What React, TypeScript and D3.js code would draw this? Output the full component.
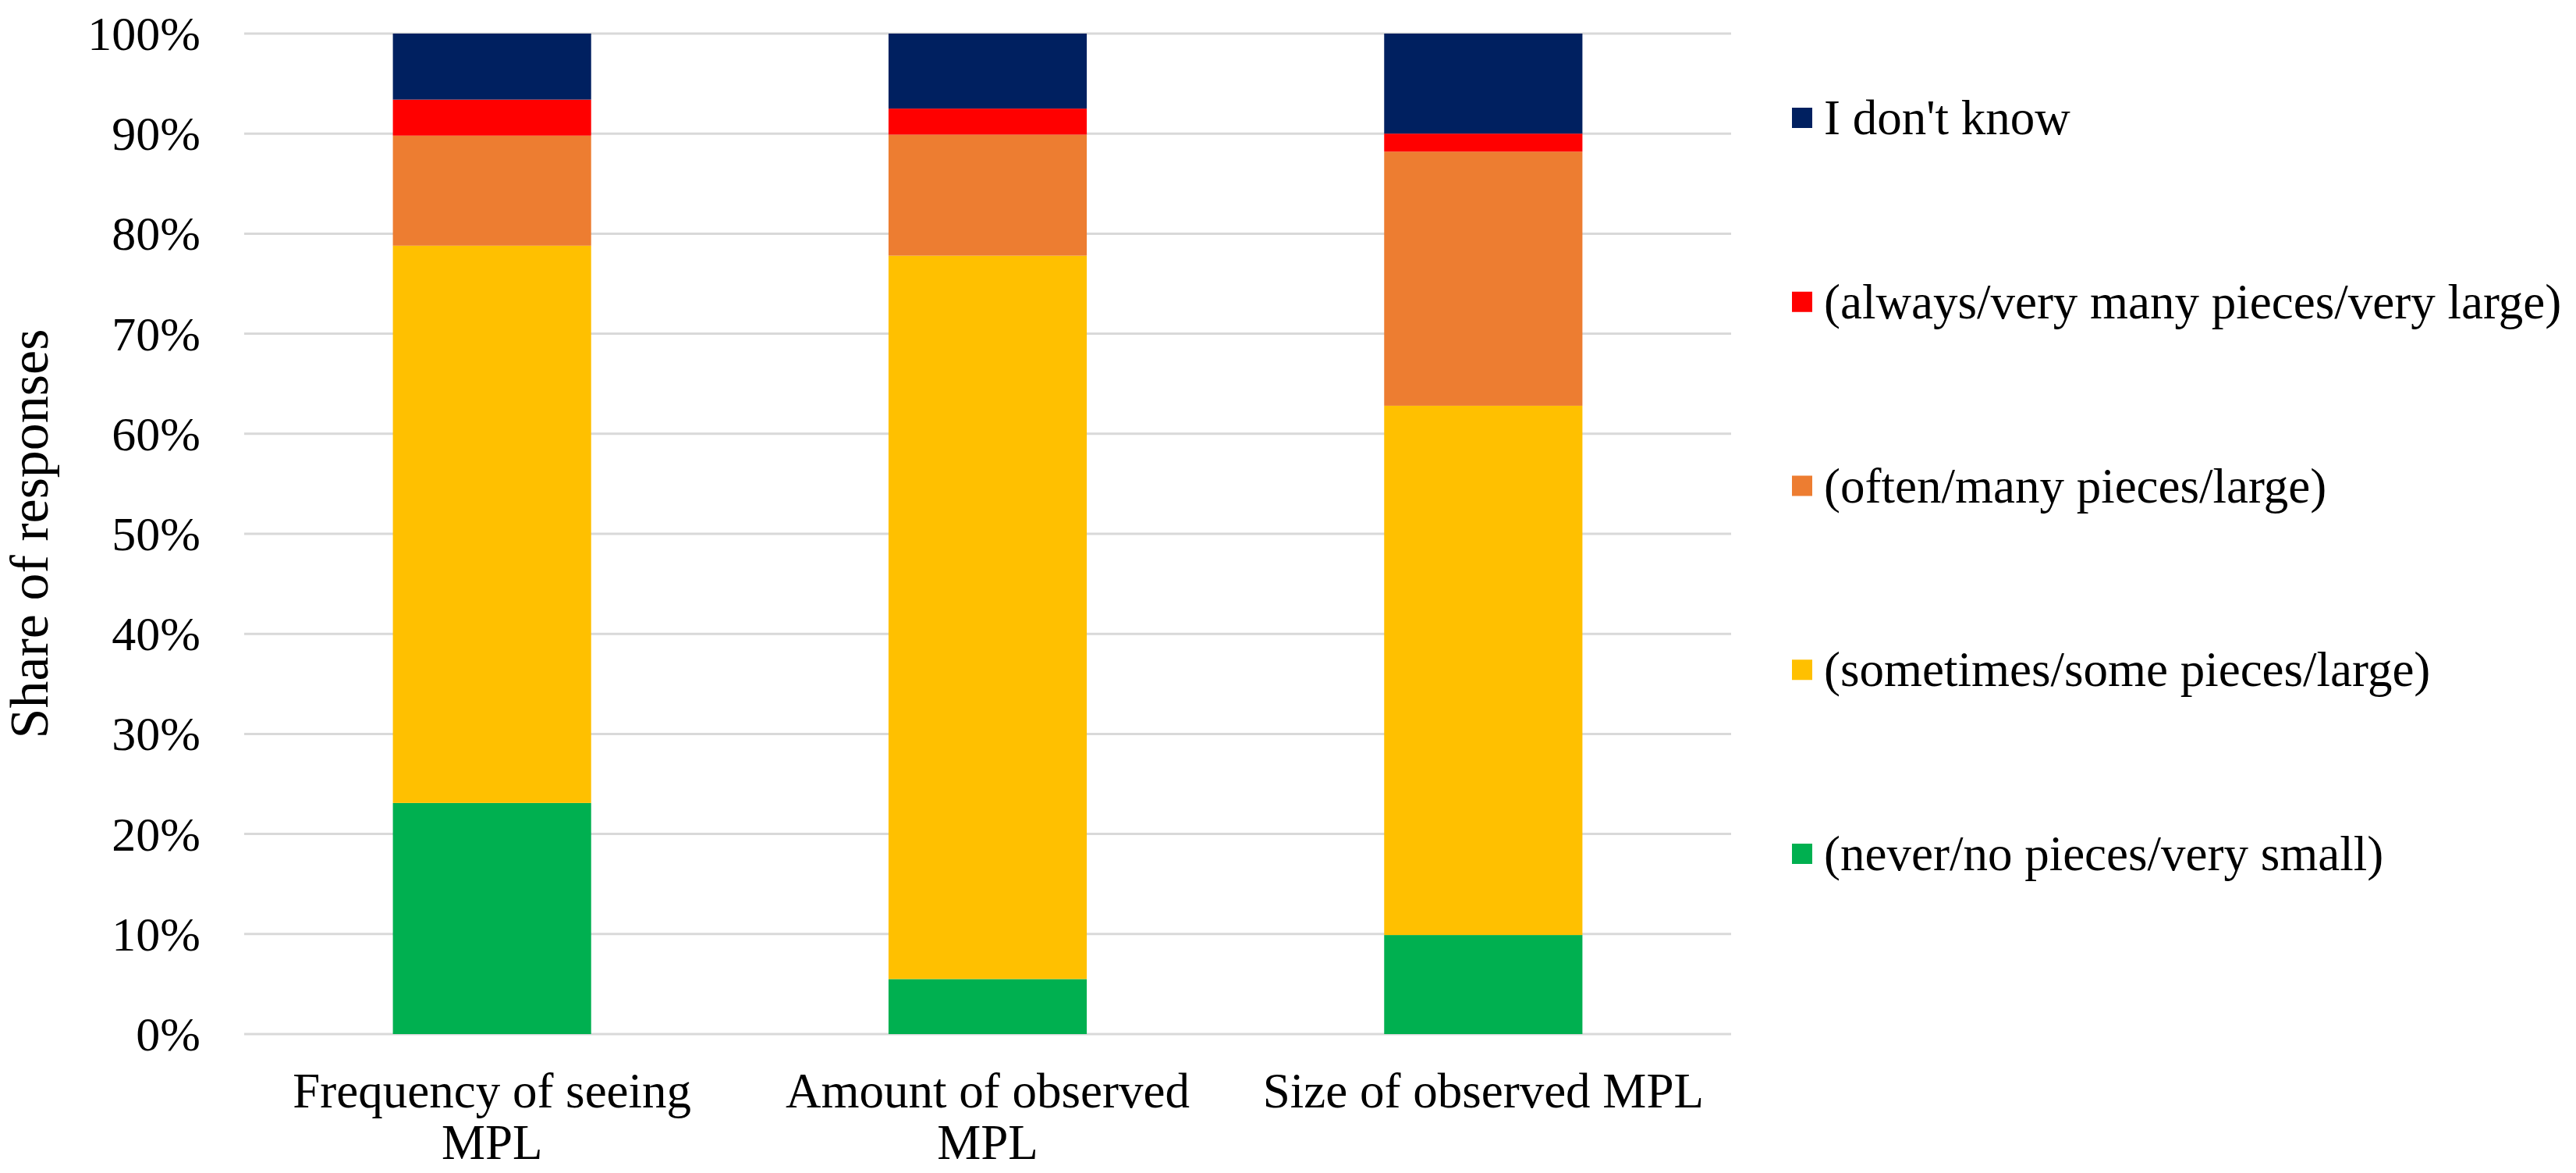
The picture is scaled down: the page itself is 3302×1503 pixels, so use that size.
import * as d3 from "d3";

const W = 3302;
const H = 1503;

// categories, each split into the lines shown under the bar
const categories = ["Frequency of seeing MPL", "Amount of observed MPL", "Size of observed MPL"];
const categoryLines = [["Frequency of seeing", "MPL"], ["Amount of observed", "MPL"], ["Size of observed MPL"]];

// series, bottom to top (percent of responses)
const seriesKeys = ["never", "sometimes", "often", "always", "dontKnow"];
const seriesLabels = [
  "(never/no pieces/very small)",
  "(sometimes/some pieces/large)",
  "(often/many pieces/large)",
  "(always/very many pieces/very large)",
  "I don't know",
];
const seriesColors = ["#00B050", "#FFC000", "#ED7D31", "#FF0000", "#002060"];

const never = [23.1, 5.5, 9.9];
const sometimes = [55.7, 72.3, 52.9];
const often = [11.0, 12.1, 25.4];
const always = [3.6, 2.6, 1.8];
const dontKnow = [6.6, 7.5, 10.0];

const yTicks = [0, 10, 20, 30, 40, 50, 60, 70, 80, 90, 100];

const FONT = "'Liberation Serif', 'Times New Roman', serif";

export default function App() {
  const margin = { left: 313, right: 2219, top: 43, bottom: 1325 };

  const rows = categories.map((c, i) => ({
    category: c,
    never: never[i],
    sometimes: sometimes[i],
    often: often[i],
    always: always[i],
    dontKnow: dontKnow[i],
  }));

  const stacked = d3.stack<any>().keys(seriesKeys)(rows);

  const x = d3
    .scaleBand<string>()
    .domain(categories)
    .range([margin.left, margin.right])
    .paddingInner(0.6)
    .paddingOuter(0.3);

  const y = d3.scaleLinear().domain([0, 100]).range([margin.bottom, margin.top]);

  const color = d3.scaleOrdinal<string, string>().domain(seriesKeys).range(seriesColors);

  // legend listed top to bottom in reverse stacking order
  const legendKeys = [...seriesKeys].reverse();
  const legendY = d3.scalePoint<string>().domain(legendKeys).range([151, 1094]);

  return (
    <svg
      width={W}
      height={H}
      style={{ position: "absolute", left: 0, top: 0, background: "#fff" }}
      fontFamily={FONT}
    >
      <rect width={W} height={H} fill="#fff" />

      {/* gridlines */}
      {yTicks.map((t) => (
        <line
          key={t}
          x1={margin.left}
          x2={margin.right}
          y1={y(t)}
          y2={y(t)}
          stroke="#D9D9D9"
          strokeWidth={3}
        />
      ))}

      {/* y tick labels */}
      {yTicks.map((t) => (
        <text
          key={"l" + t}
          x={257}
          y={y(t)}
          textAnchor="end"
          dominantBaseline="central"
          fontSize={62}
          fill="#000"
        >
          {t + "%"}
        </text>
      ))}

      {/* y axis title */}
      <text
        transform={`translate(37, ${(margin.top + margin.bottom) / 2}) rotate(-90)`}
        textAnchor="middle"
        dominantBaseline="central"
        fontSize={70}
        fill="#000"
      >
        Share of responses
      </text>

      {/* stacked bars */}
      {stacked.map((layer) => (
        <g key={layer.key} fill={color(layer.key)}>
          {layer.map((d, i) => (
            <rect
              key={i}
              x={x(categories[i])}
              y={y(d[1])}
              width={x.bandwidth()}
              height={y(d[0]) - y(d[1])}
            />
          ))}
        </g>
      ))}

      {/* category labels */}
      {categories.map((c, i) => (
        <text
          key={c}
          x={(x(c) ?? 0) + x.bandwidth() / 2}
          y={1419}
          textAnchor="middle"
          fontSize={63}
          fill="#000"
        >
          {categoryLines[i].map((line, j) => (
            <tspan key={j} x={(x(c) ?? 0) + x.bandwidth() / 2} dy={j === 0 ? 0 : 66}>
              {line}
            </tspan>
          ))}
        </text>
      ))}

      {/* legend */}
      {legendKeys.map((k) => {
        const idx = seriesKeys.indexOf(k);
        const cy = legendY(k) ?? 0;
        return (
          <g key={k}>
            <rect x={2297} y={cy - 13} width={26} height={26} fill={color(k)} />
            <text x={2338} y={cy} dominantBaseline="central" fontSize={63} fill="#000">
              {seriesLabels[idx]}
            </text>
          </g>
        );
      })}
    </svg>
  );
}
